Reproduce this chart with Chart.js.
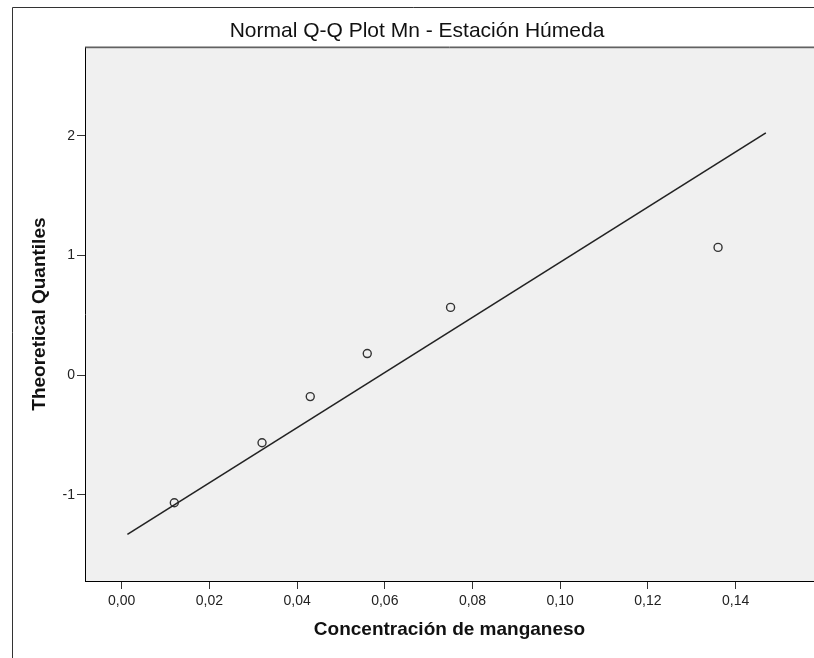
<!DOCTYPE html>
<html>
<head>
<meta charset="utf-8">
<script src="https://cdn.jsdelivr.net/npm/chart.js@4.4.1/dist/chart.umd.min.js"></script>
<style>
  html, body { margin: 0; padding: 0; background: #fff; overflow: hidden; }
  #wrap { width: 814px; height: 658px; }
</style>
</head>
<body>
<div id="wrap"><canvas id="myChart" width="814" height="658"></canvas></div>
<script>
// observed Mn concentration and its theoretical normal quantile
const concentracion = [0.012, 0.032, 0.043, 0.056, 0.075, 0.136];
const cuantiles = [-1.068, -0.566, -0.180, 0.180, 0.566, 1.068];

// reference line ends
const lineaX = [0.0013, 0.1469];
const lineaY = [-1.332, 2.026];

const xTicks = [0, 0.02, 0.04, 0.06, 0.08, 0.10, 0.12, 0.14];
const yTicks = [-1, 0, 1, 2];

const puntos = concentracion.map((x, i) => ({ x: x, y: cuantiles[i] }));
const linea = lineaX.map((x, i) => ({ x: x, y: lineaY[i] }));

const fondo = {
  id: 'fondo',
  beforeDraw(chart) {
    const { ctx, chartArea: a, width, height } = chart;
    ctx.save();
    ctx.fillStyle = '#ffffff';
    ctx.fillRect(0, 0, width, height);
    // outer frame
    ctx.strokeStyle = '#333';
    ctx.lineWidth = 1;
    ctx.beginPath();
    ctx.moveTo(12.5, height);
    ctx.lineTo(12.5, 7.5);
    ctx.lineTo(width, 7.5);
    ctx.stroke();
    ctx.fillStyle = '#f0f0f0';
    ctx.fillRect(a.left, a.top, a.right - a.left, a.bottom - a.top);
    ctx.restore();
  },
  afterDraw(chart) {
    const { ctx, chartArea: a } = chart;
    ctx.save();
    ctx.strokeStyle = '#9a9a9a';
    ctx.beginPath();
    ctx.moveTo(a.left, a.top - 0.5);
    ctx.lineTo(a.right, a.top - 0.5);
    ctx.stroke();
    ctx.strokeStyle = '#444';
    ctx.beginPath();
    ctx.moveTo(a.left, a.top + 0.5);
    ctx.lineTo(a.right, a.top + 0.5);
    ctx.stroke();
    ctx.restore();
  }
};

const config = {
  type: 'scatter',
  data: {
    datasets: [
      {
        label: 'linea',
        data: linea,
        showLine: true,
        borderColor: '#222',
        borderWidth: 1.6,
        pointRadius: 0,
        fill: false
      },
      {
        label: 'Mn',
        data: puntos,
        pointRadius: 4,
        pointBorderWidth: 1.4,
        pointBorderColor: '#333',
        pointBackgroundColor: 'rgba(0,0,0,0)'
      }
    ]
  },
  options: {
    responsive: false,
    animation: false,
    layout: { autoPadding: false, padding: { left: 20, right: 0, top: 0, bottom: 0 } },
    plugins: {
      legend: { display: false },
      tooltip: { enabled: false },
      title: {
        display: true,
        text: 'Normal Q-Q Plot Mn - Estación Húmeda',
        color: '#111',
        font: { family: 'Arial, "Liberation Sans", sans-serif', size: 21, weight: 'normal', lineHeight: 1.2 },
        padding: { top: 19, bottom: 3 }
      }
    },
    scales: {
      x: {
        type: 'linear',
        min: -0.00837,
        max: 0.15788,
        afterBuildTicks(scale) { scale.ticks = xTicks.map(v => ({ value: v })); },
        afterFit(scale) { scale.height = 77; },
        grid: { drawOnChartArea: false, drawTicks: true, tickLength: 8, color: '#333', lineWidth: 1 },
        border: { display: true, color: '#000', width: 1 },
        ticks: {
          color: '#222',
          padding: 4,
          font: { family: 'Arial, "Liberation Sans", sans-serif', size: 14 },
          callback: v => v.toFixed(2).replace('.', ',')
        },
        title: {
          display: true,
          text: 'Concentración de manganeso',
          color: '#111',
          font: { family: 'Arial, "Liberation Sans", sans-serif', size: 19, weight: 'bold' },
          padding: { top: 0, bottom: 17 }
        }
      },
      y: {
        type: 'linear',
        min: -1.722,
        max: 2.742,
        afterBuildTicks(scale) { scale.ticks = yTicks.map(v => ({ value: v })); },
        afterFit(scale) { scale.width = 65; },
        grid: { drawOnChartArea: false, drawTicks: true, tickLength: 8, color: '#333', lineWidth: 1 },
        border: { display: true, color: '#000', width: 1 },
        ticks: {
          color: '#222',
          padding: 2,
          font: { family: 'Arial, "Liberation Sans", sans-serif', size: 14 },
          callback: v => String(v)
        },
        title: {
          display: true,
          text: 'Theoretical Quantiles',
          color: '#111',
          font: { family: 'Arial, "Liberation Sans", sans-serif', size: 19, weight: 'bold' },
          padding: { top: 8, bottom: 0 }
        }
      }
    }
  },
  plugins: [fondo]
};

const ctx = document.getElementById('myChart');
const myChart = new Chart(ctx, config);
</script>
</body>
</html>
